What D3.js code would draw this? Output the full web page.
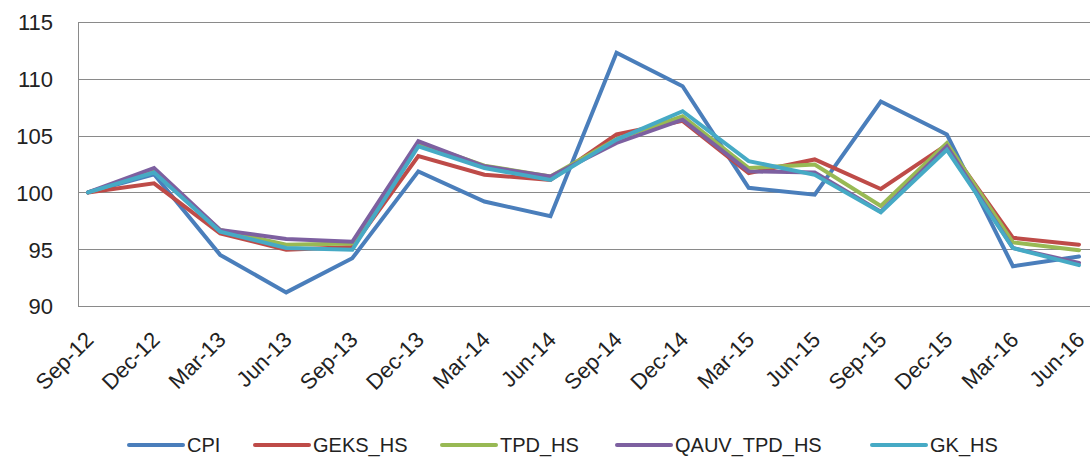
<!DOCTYPE html>
<html><head><meta charset="utf-8">
<script src="https://cdn.jsdelivr.net/npm/d3@7"></script>
<style>body{margin:0;background:#fff;} svg{display:block;}</style>
</head><body>
<svg id="chart" width="1090" height="457"></svg>
<script>
const categories = ["Sep-12","Dec-12","Mar-13","Jun-13","Sep-13","Dec-13","Mar-14","Jun-14","Sep-14","Dec-14","Mar-15","Jun-15","Sep-15","Dec-15","Mar-16","Jun-16"];
const seriesNames = ["CPI","GEKS_HS","TPD_HS","QAUV_TPD_HS","GK_HS"];
const seriesColors = ["#4A7EBB","#BE4B48","#98B954","#7D60A0","#46AAC5"];
const cpi        = [100,101.6,94.5,91.2,94.2,101.85,99.2,97.9,112.3,109.35,100.4,99.8,108.0,105.1,93.5,94.35];
const geks_hs    = [100,100.8,96.4,94.95,95.2,103.2,101.55,101.1,105.1,106.3,101.7,102.9,100.3,104.2,96.0,95.4];
const tpd_hs     = [100,101.85,96.7,95.4,95.5,104.35,102.35,101.4,104.7,106.7,102.15,102.45,98.8,104.35,95.6,94.9];
const qauv_tpd_hs= [100,102.15,96.7,95.9,95.65,104.5,102.3,101.4,104.35,106.4,101.85,101.75,98.3,104.05,95.1,93.8];
const gk_hs      = [100,101.75,96.55,95.1,94.95,104.05,102.15,101.1,104.65,107.15,102.75,101.55,98.25,103.75,95.1,93.6];
const yTicks = [90,95,100,105,110,115];

const allSeries = [cpi, geks_hs, tpd_hs, qauv_tpd_hs, gk_hs];

const svg = d3.select("#chart");
const plotLeft = 78, plotRight = 1090, plotTop = 22, plotBottom = 306;
const FONT = "'Liberation Sans', Arial, sans-serif";

const x = d3.scalePoint().domain(categories).range([88, 1079]);
const y = d3.scaleLinear().domain([90,115]).range([plotBottom, plotTop]);

// gridlines
svg.append("g").selectAll("line").data(yTicks).join("line")
  .attr("x1", plotLeft).attr("x2", plotRight)
  .attr("y1", d => Math.round(y(d))+0.5).attr("y2", d => Math.round(y(d))+0.5)
  .attr("stroke", "#8a8a8a").attr("stroke-width", 1);

// left axis line
svg.append("line")
  .attr("x1", plotLeft+0.5).attr("x2", plotLeft+0.5)
  .attr("y1", plotTop).attr("y2", plotBottom+0.5)
  .attr("stroke", "#8a8a8a").attr("stroke-width", 1);

// y axis labels
const yAxis = d3.axisLeft(y).tickValues(yTicks).tickSize(0).tickPadding(0);
const gy = svg.append("g").attr("transform", `translate(53,0)`).call(yAxis);
gy.select(".domain").remove();
gy.selectAll("text")
  .attr("font-family", FONT)
  .attr("font-size", "22px").attr("fill", "#222")
  .attr("dy", "0.36em");

// x axis labels (rotated texts positioned by the point scale)
const labelY = plotBottom + 35;
svg.append("g").selectAll("text").data(categories).join("text")
  .attr("x", d => x(d) + 7)
  .attr("y", labelY)
  .attr("transform", d => `rotate(-45, ${x(d) + 7}, ${labelY})`)
  .attr("text-anchor", "end")
  .attr("font-family", FONT)
  .attr("font-size", "22px").attr("fill", "#222")
  .text(d => d);

// lines
const line = d3.line().x((d,i) => x(categories[i])).y(d => y(d)).curve(d3.curveLinear);
svg.append("g").selectAll("path").data(allSeries).join("path")
  .attr("d", d => line(d))
  .attr("fill", "none")
  .attr("stroke", (d,i) => seriesColors[i])
  .attr("stroke-width", 4)
  .attr("stroke-linejoin", "miter")
  .attr("stroke-linecap", "round");

// legend
const legendX = [129, 255, 442, 617, 872];
const lg = svg.append("g");
seriesNames.forEach((name, i) => {
  lg.append("line")
    .attr("x1", legendX[i]).attr("x2", legendX[i]+54)
    .attr("y1", 445).attr("y2", 445)
    .attr("stroke", seriesColors[i]).attr("stroke-width", 4)
    .attr("stroke-linecap", "round");
  lg.append("text")
    .attr("x", legendX[i]+58).attr("y", 452)
    .attr("font-family", FONT)
    .attr("font-size", "20px").attr("fill", "#222")
    .text(name);
});
</script>
</body></html>
